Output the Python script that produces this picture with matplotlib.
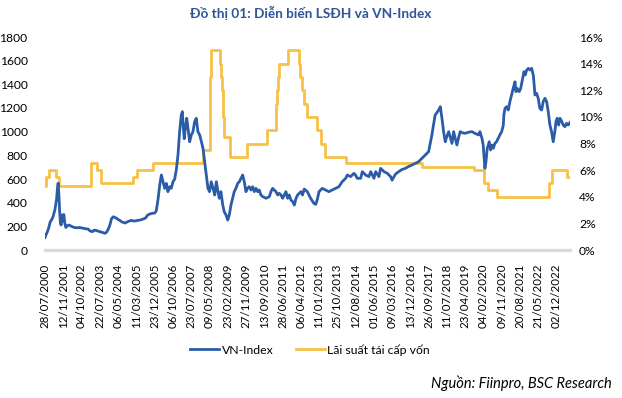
import matplotlib
matplotlib.use("Agg")
import matplotlib.pyplot as plt
from matplotlib.ticker import FuncFormatter, MultipleLocator

# ---------------- data ----------------
tick_labels = ["28/07/2000", "12/11/2001", "04/10/2002", "22/07/2003", "06/05/2004",
               "11/03/2005", "23/12/2005", "06/10/2006", "23/07/2007", "09/05/2008",
               "23/02/2009", "27/11/2009", "13/09/2010", "28/06/2011", "06/04/2012",
               "11/01/2013", "25/10/2013", "12/08/2014", "01/06/2015", "09/03/2016",
               "13/12/2016", "26/09/2017", "11/07/2018", "23/04/2019", "04/02/2020",
               "09/11/2020", "20/08/2021", "21/05/2022", "02/12/2022"]

# position on the category axis, measured in label intervals
vn_period = [0.00, 0.05, 0.12, 0.20, 0.28, 0.36, 0.44, 0.54, 0.60, 0.64, 0.68, 0.72, 0.76, 0.80,
             0.84, 0.88, 0.92, 0.98, 1.03, 1.08, 1.14, 1.22, 1.32, 1.45, 1.60, 1.75, 1.90, 2.05,
             2.20, 2.35, 2.48, 2.60, 2.70, 2.80, 2.90, 3.00, 3.10, 3.20, 3.28, 3.37, 3.46, 3.55,
             3.64, 3.74, 3.83, 3.92, 4.00, 4.10, 4.20, 4.30, 4.40, 4.50, 4.62, 4.74, 4.86, 5.00,
             5.12, 5.25, 5.38, 5.50, 5.62, 5.75, 5.88, 6.00, 6.09, 6.19, 6.28, 6.37, 6.46, 6.55,
             6.64, 6.73, 6.82, 6.91, 7.01, 7.10, 7.19, 7.28, 7.37, 7.46, 7.52, 7.55, 7.62, 7.68,
             7.76, 7.83, 7.92, 8.01, 8.10, 8.19, 8.28, 8.37, 8.47, 8.56, 8.65, 8.74, 8.83, 8.92,
             9.01, 9.10, 9.20, 9.29, 9.38, 9.47, 9.54, 9.63, 9.73, 9.81, 9.91, 10.00, 10.09,
             10.18, 10.27, 10.36, 10.45, 10.55, 10.64, 10.73, 10.82, 10.91, 11.00, 11.09, 11.18,
             11.28, 11.37, 11.46, 11.55, 11.64, 11.73, 11.82, 11.92, 12.10, 12.28, 12.37, 12.46,
             12.55, 12.64, 12.74, 12.82, 12.92, 13.01, 13.10, 13.19, 13.28, 13.37, 13.46, 13.56,
             13.65, 13.74, 13.83, 14.01, 14.10, 14.19, 14.36, 14.54, 14.72, 14.82, 14.90, 15.00,
             15.18, 15.36, 15.54, 15.73, 15.91, 16.09, 16.27, 16.46, 16.55, 16.73, 16.91, 17.00,
             17.09, 17.28, 17.37, 17.55, 17.73, 17.83, 18.01, 18.10, 18.28, 18.37, 18.56, 18.74,
             18.92, 19.00, 19.18, 19.36, 19.54, 19.72, 19.90, 20.09, 20.27, 20.45, 20.64, 20.82,
             21.00, 21.09, 21.18, 21.27, 21.36, 21.45, 21.55, 21.64, 21.73, 21.82, 21.91, 22.00,
             22.10, 22.19, 22.28, 22.37, 22.46, 22.55, 22.64, 22.73, 22.86, 23.00, 23.18, 23.37,
             23.55, 23.74, 23.81, 23.92, 23.99, 24.04, 24.08, 24.14, 24.21, 24.32, 24.39, 24.47,
             24.54, 24.63, 24.72, 24.81, 24.90, 25.00, 25.09, 25.12, 25.18, 25.27, 25.36, 25.45,
             25.54, 25.63, 25.73, 25.78, 25.85, 25.96, 26.04, 26.15, 26.22, 26.29, 26.37, 26.46,
             26.55, 26.64, 26.73, 26.78, 26.82, 26.91, 27.00, 27.09, 27.19, 27.27, 27.37, 27.46,
             27.55, 27.64, 27.73, 27.82, 27.91, 27.97, 28.04, 28.12, 28.19, 28.28, 28.37, 28.46,
             28.55, 28.64, 28.75]

vn_index = [105, 127, 150, 185, 235, 255, 281, 338, 400, 437, 521, 565, 470, 330,
            240, 211, 296, 245, 300, 230, 190, 205, 211, 200, 190, 188, 190, 185,
            180, 177, 160, 155, 168, 165, 160, 155, 150, 146, 141, 150, 175, 210,
            265, 281, 275, 268, 258, 250, 238, 232, 228, 238, 245, 250, 244, 248,
            252, 255, 262, 270, 295, 305, 310, 312, 330, 430, 549, 634, 577, 521,
            563, 493, 535, 521, 577, 600, 680, 803, 1000, 1141, 1169, 1084, 940, 1028,
            1113, 1028, 915, 972, 1000, 1084, 1113, 1000, 972, 915, 859, 746, 634, 521,
            493, 577, 521, 465, 577, 493, 437, 493, 380, 324, 296, 253, 296,
            380, 437, 493, 521, 563, 577, 606, 634, 577, 493, 521, 535,
            507, 535, 493, 521, 493, 507, 465, 451, 437, 451, 493, 521,
            507, 493, 465, 479, 465, 437, 465, 493, 437, 465, 423, 408,
            380, 437, 465, 493, 465, 515, 493, 437, 394, 386, 423, 493,
            521, 507, 493, 507, 521, 535, 577, 606, 634, 620, 648, 634,
            606, 606, 662, 634, 620, 662, 606, 662, 620, 690, 662, 648,
            620, 590, 640, 662, 680, 690, 705, 718, 732, 746, 775, 803,
            831, 900, 972, 1060, 1141, 1160, 1183, 1211, 1113, 1000, 915, 960,
            1000, 950, 901, 1000, 940, 887, 950, 1000, 990, 986, 995, 1000,
            985, 972, 1000, 944, 887, 780, 690, 746, 859, 915, 845, 887,
            859, 901, 915, 944, 972, 1000, 1056, 1141, 1197, 1211, 1183, 1253,
            1310, 1366, 1422, 1338, 1366, 1338, 1366, 1451, 1507, 1479, 1521, 1535,
            1521, 1535, 1479, 1394, 1310, 1324, 1282, 1197, 1183, 1253, 1282, 1253,
            1169, 1056, 1000, 915, 1000, 1084, 1113, 1056, 1113, 1090, 1056, 1042,
            1070, 1056, 1079]

rate_period = [0.00, 0.05, 0.22, 0.59, 0.77, 2.50, 2.83, 3.05, 4.82, 5.05, 5.91, 8.65, 9.01,
               9.07, 9.58, 9.63, 9.69, 9.74, 9.82, 10.13, 11.04, 12.13, 12.64, 12.70, 12.75,
               12.81, 13.28, 13.89, 13.96, 14.07, 14.18, 14.32, 14.90, 15.12, 15.31, 16.46,
               20.63, 23.46, 24.03, 24.26, 24.76, 27.60, 27.73, 28.55, 28.75]
rate_value = [4.8, 5.5, 6.0, 5.5, 4.8, 6.5, 6.0, 5.0, 5.5, 6.0, 6.5, 7.5, 13.0,
              15.0, 14.0, 13.0, 12.0, 10.0, 8.5, 7.0, 8.0, 9.0, 11.0, 12.0, 13.0,
              14.0, 15.0, 14.0, 13.0, 12.0, 11.0, 10.0, 9.0, 8.0, 7.0, 6.5,
              6.25, 6.0, 5.0, 4.5, 4.0, 5.0, 6.0, 5.5, 5.5]

# ---------------- style ----------------
FONT = ["Lato", "DejaVu Sans"]
plt.rcParams["font.family"] = FONT
BLUE = "#2B5CA8"
GOLD = "#F8C146"
TITLE_BLUE = "#2F5597"

fig = plt.figure(figsize=(6.22, 3.98), dpi=100)
ax = fig.add_axes([45 / 622, 1 - 250 / 398, 525 / 622, 213 / 398])
ax2 = ax.twinx()

ax.plot(vn_period, vn_index, color=BLUE, lw=2.0, label="VN-Index", zorder=3, solid_joinstyle="round")
ax2.plot(rate_period, rate_value, color=GOLD, lw=2.0, drawstyle="steps-post",
         label="Lãi suất tái cấp vốn", zorder=2)

ax.set_zorder(ax2.get_zorder() + 1)
ax.patch.set_visible(False)

ax.set_xlim(0, 28.74)
ax.set_ylim(0, 1800)
ax2.set_ylim(0, 16)
ax.yaxis.set_major_locator(MultipleLocator(200))
ax2.yaxis.set_major_locator(MultipleLocator(2))
ax2.yaxis.set_major_formatter(FuncFormatter(lambda v, p: f"{int(round(v))}%"))

ax.set_xticks(range(len(tick_labels)))
ax.set_xticklabels(tick_labels, rotation=90, fontsize=8.3, color="#000000")

for a in (ax, ax2):
    for s in a.spines.values():
        s.set_visible(False)
    a.tick_params(length=0)
ax.tick_params(axis="y", labelsize=8.7, pad=12.5)
ax2.tick_params(axis="y", labelsize=8.7, pad=6.5)
ax.tick_params(axis="x", pad=10)
ax.spines["bottom"].set_visible(True)
ax.spines["bottom"].set_color("#D9D9D9")
ax.spines["bottom"].set_linewidth(2.4)

fig.text(0.5, 1 - 13 / 398, "Đồ thị 01: Diễn biến LSĐH và VN-Index", ha="center", va="center",
         fontsize=9.8, fontweight="bold", color=TITLE_BLUE)

h1, l1 = ax.get_legend_handles_labels()
h2, l2 = ax2.get_legend_handles_labels()
fig.legend(h1 + h2, l1 + l2, loc="center", bbox_to_anchor=(310 / 622, 1 - 350 / 398), ncol=2,
           frameon=False, fontsize=8.8, handlelength=2.4, handletextpad=0.2, columnspacing=1.8)

fig.text(612 / 622, 1 - 383 / 398, "Nguồn: Fiinpro, BSC Research", ha="right", va="center",
         fontsize=10.5, style="italic", color="#000000")

fig.savefig("out.png", dpi=100)
